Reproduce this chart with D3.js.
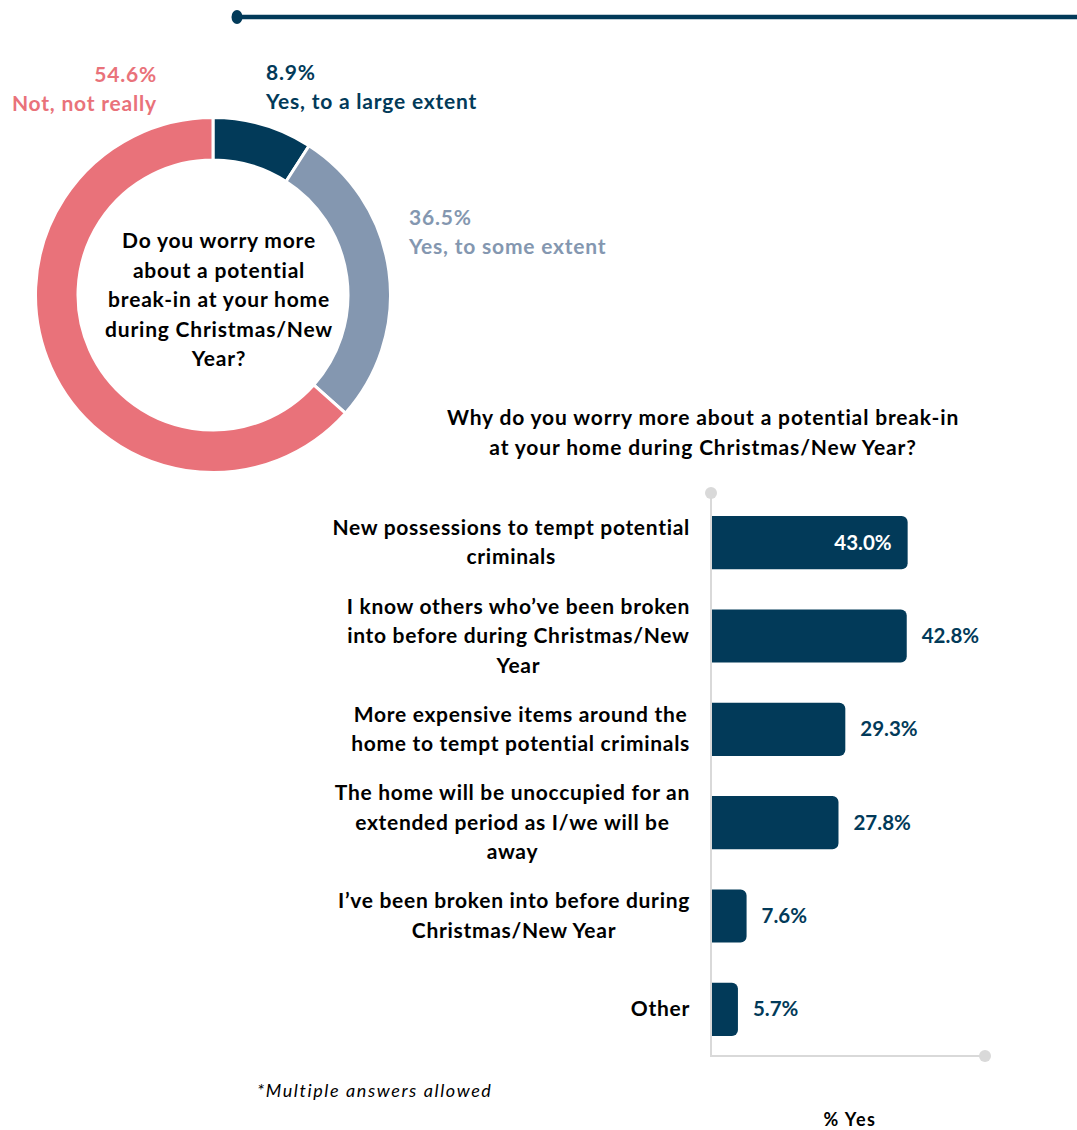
<!DOCTYPE html>
<html>
<head>
<meta charset="utf-8">
<script src="https://cdn.jsdelivr.net/npm/d3@7"></script>
<style>
  body { margin: 0; background: #fff; }
  svg { display: block; font-family: Lato, "Open Sans", sans-serif; }
</style>
</head>
<body>
<svg width="1077" height="1130"></svg>
<script>
// ---------- data ----------
var donutLabels = ["Yes, to a large extent", "Yes, to some extent", "Not, not really"];
var donutValues = [8.9, 36.5, 54.6];          // printed labels
var donutArcShares = [9.1, 27.5, 63.4];       // ring as drawn in the source picture
var donutColors = ["#023A59", "#8497B0", "#E9727A"];
var donutQuestion = ["Do you worry more", "about a potential", "break-in at your home", "during Christmas/New", "Year?"];

var barTitle = ["Why do you worry more about a potential break-in", "at your home during Christmas/New Year?"];
var barCategories = [
  ["New possessions to tempt potential", "criminals"],
  ["I know others who\u2019ve been broken", "into before during Christmas/New", "Year"],
  ["More expensive items around the", "home to tempt potential criminals"],
  ["The home will be unoccupied for an", "extended period as I/we will be", "away"],
  ["I\u2019ve been broken into before during", "Christmas/New Year"],
  ["Other"]
];
var barValues = [43.0, 42.8, 29.3, 27.8, 7.6, 5.7];

var dark = "#023A59";

// The svg
var svg = d3.select("svg");

// Top rule
svg.append("line")
    .attr("x1", 237).attr("x2", 1077)
    .attr("y1", 17).attr("y2", 17)
    .attr("stroke", dark).attr("stroke-width", 4.5);
svg.append("ellipse")
    .attr("cx", 237).attr("cy", 17).attr("rx", 5.5).attr("ry", 7)
    .attr("fill", dark);

//************************* DONUT ***************************//
var cx = 213, cy = 295;
var pie = d3.pie().sort(null).value(function (d) { return d; });
var arc = d3.arc().innerRadius(135).outerRadius(177.5);

var dg = svg.append("g").attr("transform", "translate(" + cx + "," + cy + ")");
dg.selectAll("path")
    .data(pie(donutArcShares))
    .enter().append("path")
      .attr("d", arc)
      .attr("fill", function (d, i) { return donutColors[i]; })
      .attr("stroke", "#fff")
      .attr("stroke-width", 3);

dg.append("text")
    .attr("text-anchor", "middle")
    .attr("font-size", 21).attr("font-weight", "bold").attr("fill", "#000")
    .attr("letter-spacing", 0.8)
    .selectAll("tspan")
    .data(donutQuestion)
    .enter().append("tspan")
      .attr("x", 6)
      .attr("y", function (d, i) { return -54 + i * 29.5 + 7; })
      .text(function (d) { return d; });

// donut labels: [x, y of pct, anchor]
var donutLabelPos = [[266, 80, "start"], [409, 225, "start"], [157, 82, "end"]];
donutLabels.forEach(function (lab, i) {
  var p = donutLabelPos[i];
  var t = svg.append("text")
      .attr("text-anchor", p[2])
      .attr("font-size", 21).attr("font-weight", "bold")
      .attr("letter-spacing", 0.8)
      .attr("fill", donutColors[i]);
  t.append("tspan").attr("x", p[0]).attr("y", p[1]).text(donutValues[i].toFixed(1) + "%");
  t.append("tspan").attr("x", p[0]).attr("y", p[1] + 29).text(lab);
});

//************************* BARS ***************************//
var x0 = 712;
var x = d3.scaleLinear().domain([0, 60]).range([x0, 985]);
var y = d3.scaleBand()
    .domain(d3.range(barValues.length))
    .range([496, 1056])
    .paddingInner(0.43)
    .paddingOuter(0.215);

// title
svg.append("text")
    .attr("text-anchor", "middle")
    .attr("font-size", 21).attr("font-weight", "bold").attr("fill", "#000")
    .attr("letter-spacing", 0.85)
    .selectAll("tspan")
    .data(barTitle)
    .enter().append("tspan")
      .attr("x", 703)
      .attr("y", function (d, i) { return 425 + i * 30; })
      .text(function (d) { return d; });

// axis lines
var axisColor = "#D9D9D9";
svg.append("path")
    .attr("d", "M" + (x0 - 1) + ",493V1056H985")
    .attr("fill", "none").attr("stroke", axisColor).attr("stroke-width", 2);
svg.append("circle").attr("cx", x0 - 1).attr("cy", 493).attr("r", 6).attr("fill", axisColor);
svg.append("circle").attr("cx", 985).attr("cy", 1056).attr("r", 6).attr("fill", axisColor);

// bars with rounded right end
function barPath(v, i) {
  var x1 = x(v), yt = y(i), h = y.bandwidth(), r = Math.min(6, (x1 - x0) / 2);
  return "M" + x0 + "," + yt +
    "H" + (x1 - r) + "A" + r + "," + r + " 0 0 1 " + x1 + "," + (yt + r) +
    "V" + (yt + h - r) + "A" + r + "," + r + " 0 0 1 " + (x1 - r) + "," + (yt + h) +
    "H" + x0 + "Z";
}
svg.append("g").selectAll("path")
    .data(barValues)
    .enter().append("path")
      .attr("d", barPath)
      .attr("fill", dark);

// value labels (first inside, rest outside)
svg.append("g").selectAll("text")
    .data(barValues)
    .enter().append("text")
      .attr("x", function (d, i) { return i === 0 ? x(d) - 16 : x(d) + 15; })
      .attr("y", function (d, i) { return y(i) + y.bandwidth() / 2 + 7; })
      .attr("text-anchor", function (d, i) { return i === 0 ? "end" : "start"; })
      .attr("font-size", 20.5).attr("font-weight", "bold")
      .attr("fill", function (d, i) { return i === 0 ? "#fff" : dark; })
      .text(function (d) { return d.toFixed(1) + "%"; });

// category labels: centred block, right edge at 690
var catG = svg.append("g");
barCategories.forEach(function (lines, i) {
  var t = catG.append("text")
      .attr("font-size", 21).attr("font-weight", "bold").attr("fill", "#000")
      .attr("letter-spacing", 0.7)
      .attr("text-anchor", "middle");
  var mid = y(i) + y.bandwidth() / 2;
  var spans = t.selectAll("tspan").data(lines).enter().append("tspan")
      .attr("y", function (d, j) { return mid + (j - (lines.length - 1) / 2) * 29.5 + 7; })
      .text(function (d) { return d; });
  var maxW = 0;
  spans.each(function () { maxW = Math.max(maxW, this.getComputedTextLength()); });
  spans.attr("x", 690 - maxW / 2);
});

// footnotes
svg.append("text")
    .attr("x", 257).attr("y", 1097)
    .attr("font-size", 18).attr("font-style", "italic").attr("fill", "#000")
    .attr("letter-spacing", 1.6)
    .text("*Multiple answers allowed");
svg.append("text")
    .attr("x", 850).attr("y", 1126)
    .attr("text-anchor", "middle")
    .attr("font-size", 18).attr("font-weight", "bold").attr("fill", "#000")
    .attr("letter-spacing", 1.5)
    .text("% Yes");
</script>
</body>
</html>
